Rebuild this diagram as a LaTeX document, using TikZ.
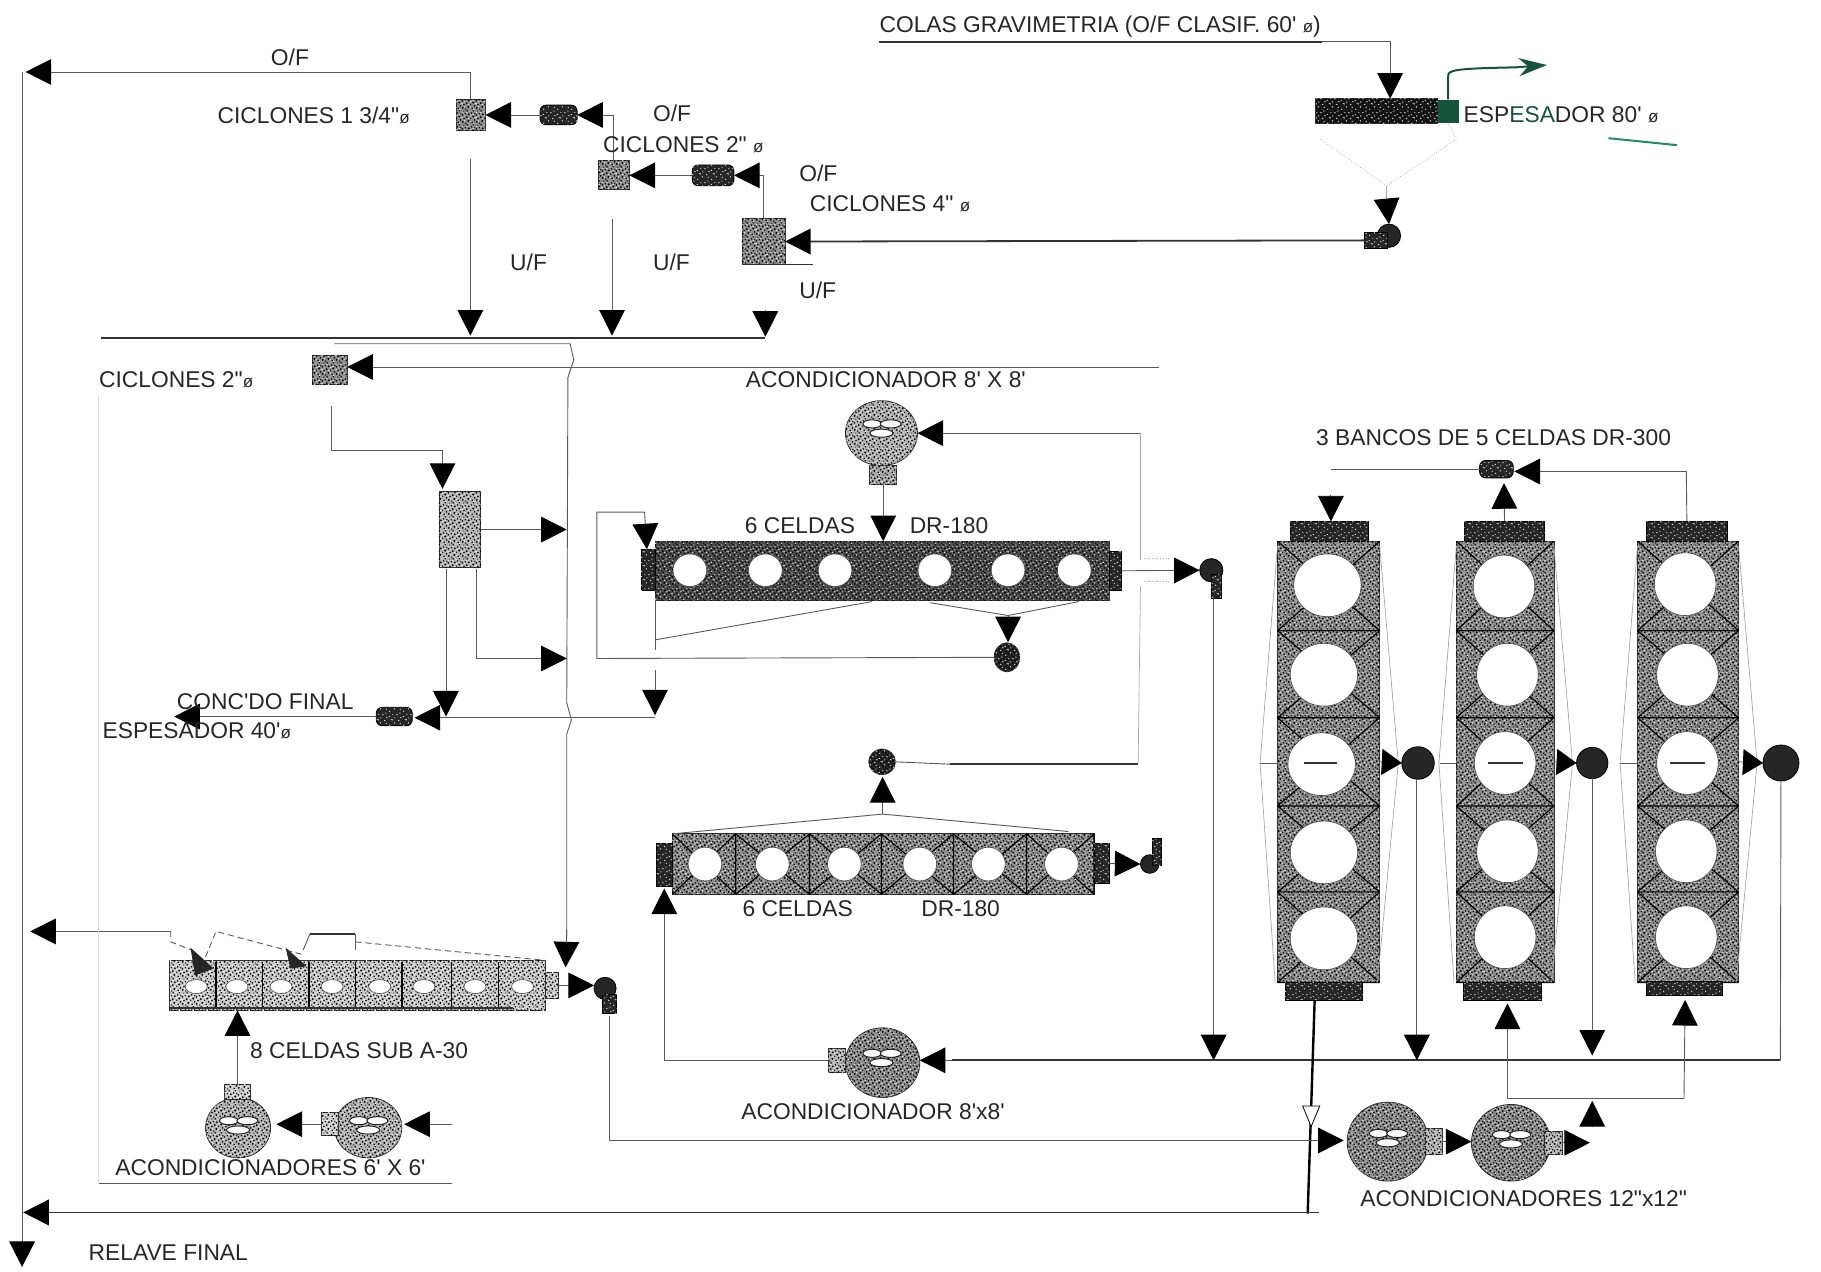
\documentclass[tikz,border=0pt]{standalone}
\usepackage{fontspec}
\newfontfamily\lblfont{Liberation Sans}
\definecolor{plantgreen}{RGB}{20,84,60}
\definecolor{markgreen}{RGB}{30,140,100}
\usetikzlibrary{arrows.meta,positioning,shapes.geometric,patterns,calc}
\newcommand{\ux}{0.5807pt}
\newcommand{\dia}{{\fontsize{8.5}{10}\selectfont ø}}
\pgfdeclarepatternformonly{speckdark}{\pgfqpoint{-1pt}{-1pt}}{\pgfqpoint{8pt}{8pt}}{\pgfqpoint{7pt}{7pt}}{
  \foreach \a/\b/\r in {0.4/0.9/0.5,1.9/0.3/0.35,3.2/1.4/0.55,5.1/0.7/0.4,6.3/1.9/0.45,
                        1.0/2.6/0.4,2.4/3.3/0.5,4.3/2.7/0.35,5.6/3.6/0.55,0.2/4.4/0.45,
                        1.7/5.0/0.35,3.4/4.7/0.5,4.8/5.4/0.4,6.4/5.0/0.35,2.6/6.4/0.45,0.9/6.3/0.3,5.7/6.5/0.4}{
    \pgfpathcircle{\pgfqpoint{\a pt}{\b pt}}{\r pt}
  }
  \pgfusepath{fill}
}
\pgfdeclarepatternformonly{specklight}{\pgfqpoint{-1pt}{-1pt}}{\pgfqpoint{8pt}{8pt}}{\pgfqpoint{7pt}{7pt}}{
  \foreach \a/\b/\r in {1.2/1.4/0.35,4.1/1.2/0.3,5.9/0.2/0.3,0.3/2.9/0.3,3.4/2.6/0.35,
                        6.6/3.0/0.3,1.4/3.9/0.3,4.5/4.0/0.35,2.5/5.5/0.35,5.6/4.6/0.3,0.5/5.6/0.25,4.0/6.3/0.3}{
    \pgfpathcircle{\pgfqpoint{\a pt}{\b pt}}{\r pt}
  }
  \pgfusepath{fill}
}
\tikzset{
  dims/.style 2 args={minimum width=(#1)*\ux,minimum height=(#2)*\ux},
  lbl/.style={font=\lblfont\fontsize{11.4}{13}\selectfont,inner sep=0,anchor=west,text=black!85},
  pipe/.style={draw=black!65,line width=.45pt},
  heavy/.style={draw=black!80,line width=.9pt},
  faint/.style={draw=black!35,line width=.35pt},
  cellline/.style={draw=black,line width=.55pt},
  flow/.style={pipe,-{Triangle[length=12.8pt,width=12.8pt,black]}},
  flowsm/.style={pipe,-{Triangle[length=10pt,width=13pt,black]}},
  mottled/.style={draw=black!80,line width=.4pt,inner sep=0,outer sep=0,fill=black!45,
    postaction={pattern=speckdark,pattern color=black},
    postaction={pattern=specklight,pattern color=white}},
  mottleddark/.style={mottled,fill=black!70},
  mottledpale/.style={mottled,fill=black!22,
    postaction={pattern=specklight,pattern color=white}},
  endcap/.style={draw=black,inner sep=0,outer sep=0,fill=black!85,
    postaction={pattern=specklight,pattern color=white}},
  pump/.style={endcap,rounded corners=3pt},
  dotpump/.style={circle,draw=black,inner sep=0,outer sep=0,fill=black!85},
  hole/.style={ellipse,draw=black!70,line width=.3pt,fill=white,inner sep=0},
  blade/.style={draw=black!85,line width=.5pt,fill=white},
}
\newcommand{\impeller}[2]{
  \begin{scope}[shift={(#1,#2)}]
    \draw[blade] (-8,-4) ellipse [x radius=8,y radius=3.5];
    \draw[blade] (8,-4) ellipse [x radius=9,y radius=3.5];
    \draw[blade] (0,4) ellipse [x radius=10,y radius=3.5];
  \end{scope}
}
\begin{document}
\begin{tikzpicture}[x=0.5807pt,y=-0.5807pt]
  \useasboundingbox (0,0) rectangle (1568,1095);

  %% Cyclones at the top
  \node[mottled,dims={25}{26}] (cycone) at (405.5,99) {};
  \node[mottled,dims={27}{25}] (cyctwo) at (528.5,151) {};
  \node[mottled,dims={37}{40}] (cycfour) at (657.5,208) {};
  \node[pump,dims={32}{17}] (pumpone) at (481,99) {};
  \node[pump,dims={36}{18}] (pumptwo) at (614,151) {};
  \node[dotpump,dims={20}{20}] (pumpesp) at (1196,203) {};
  \node[endcap,dims={20}{13}] (pumpespin) at (1185,207) {};

  \coordinate (ofleft) at (22,62);
  \coordinate (tailtop) at (19,62);
  \coordinate (tailend) at (19,1091);
  \draw[flow] (cycone.north) |- (ofleft);
  \draw[flow] (tailtop) -- (tailend);
  \draw[flow] (cyctwo.north) |- (pumpone.east);
  \draw[flow] (cycfour.north) |- (pumptwo.east);
  \draw[flow] (pumpone.west) -- (cycone.east);
  \draw[flow] (pumptwo.west) -- (cyctwo.east);
  \draw[flow,heavy] (pumpespin.west) -- (cycfour.east);

  %% Underflow collector
  \coordinate (colstart) at (87,291);
  \coordinate (colend) at (659,291);
  \draw[heavy] (colstart) -- (colend);
  \draw[heavy,line width=.6pt] (cycfour.south west) -- ++(61,0);
  \foreach \x/\ya/\yb in {405/137/289,527/189/289}{
    \coordinate (ufa\x) at (\x,\ya);
    \coordinate (ufb\x) at (\x,\yb);
    \draw[flow] (ufa\x) -- (ufb\x);
  }
  \coordinate (ufc) at (659,267);
  \coordinate (ufd) at (659,290);
  \draw[flow] (ufc) -- (ufd);

  %% Thickener
  \node[mottleddark,dims={105}{21},fill=black!90] (espbox) at (1185.5,95.5) {};
  \node[fill=plantgreen,inner sep=0,dims={18}{20}] (espout) at (1247,96) {};
  \coordinate (colas) at (757,36);
  \coordinate (colasmid) at (1138,36);
  \coordinate (colasend) at (1197,36);
  \coordinate (conel) at (1137,120);
  \coordinate (coner) at (1254,120);
  \coordinate (coneapex) at (1194,160);
  \coordinate (conedrop) at (1194,172);
  \coordinate (pumpin) at (1196,193);
  \coordinate (espin) at (1197,85);
  \draw[heavy] (colas) -- (colasmid);
  \draw[flow] (colasmid) -- (colasend) -- (espin);
  \draw[faint,densely dotted] (conel) -- (coneapex) -- (coner) -- (espout.south);
  \draw[faint] (coneapex) -- (conedrop);
  \draw[flow] (conedrop) -- (pumpin);
  \coordinate (greenend) at (1332,56);
  \draw[plantgreen,line width=1pt,-{Stealth[length=14pt,width=9pt]}]
    (espout.north) -- ++(0,-20) .. controls (1246,60) and (1255,59) .. (1305,58) -- (greenend);
  \coordinate (marka) at (1385,119);
  \coordinate (markb) at (1444,125);
  \draw[markgreen,line width=1pt] (marka) -- (markb);

  %% Second stage classification
  \node[mottled,dims={30}{25}] (cycb) at (284,318.5) {};
  \node[mottled,dims={36}{66},fill=black!30] (deslamer) at (396,456) {};
  \node[pump,dims={31}{16}] (pumpconc) at (339.5,617) {};
  \coordinate (feedline) at (998,316);
  \coordinate (feedtip) at (299,316);
  \coordinate (colbstart) at (288,296);
  \coordinate (colbend) at (491,296);
  \coordinate (cleanerin) at (487,833);
  \coordinate (cycbout) at (285,350);
  \coordinate (cycbturn) at (285,388);
  \coordinate (deslamertop) at (381,421);
  \coordinate (desa) at (488,456);
  \coordinate (desb) at (410,490);
  \coordinate (desc) at (488,567);
  \coordinate (desd) at (384,490);
  \coordinate (dese) at (384,617);
  \coordinate (concleft) at (150,617);
  \coordinate (concjoin) at (564,618);
  \coordinate (concin) at (357,618);
  \draw[flow] (feedline) -- (feedtip);
  \draw[pipe] (colbstart) -- (colbend) -- (494,310) -- (489,325) -- (488,605) -- (492,620) -- (488,632) -- (488,810);
  \draw[flow] (488,800) -- (cleanerin);
  \draw[flow] (cycbout) -- (cycbturn) -- (381,388) -- (deslamertop);
  \draw[flow] (deslamer.east) -- (desa);
  \draw[flow] (desb) |- (desc);
  \draw[flow] (desd) -- (dese);
  \draw[flow] (concjoin) -- (concin);
  \draw[flow] (pumpconc.west) -- (concleft);

  %% Conditioner and first DR-180 bank
  \node[mottled,ellipse,dims={62}{56},fill=black!30] (condtop) at (759,373) {};
  \node[mottled,dims={23}{16},fill=black!35] (condtopout) at (760.5,409) {};
  \impeller{759}{369}
  \node[mottleddark,dims={391}{51}] (bankone) at (759.5,491.5) {};
  \node[endcap,dims={12}{35}] (bankonel) at (558,491) {};
  \node[endcap,dims={11}{33}] (bankoner) at (960.5,491.5) {};
  \foreach \x/\n in {594/a,659/b,719/c,805/d,868/e,925/f}
    \node[hole,dims={29}{28}] (holeone\n) at (\x,491) {};
  \coordinate (condfeed) at (982,373);
  \coordinate (feeddown) at (982,482);
  \coordinate (bankonetop) at (760.5,466);
  \draw[flow] (condfeed) -- (condtop.east);
  \draw[flow] (condtopout.south) -- (bankonetop);
  \draw[faint] (condfeed) -- (feeddown);
  \coordinate (dotsa) at (985,481);
  \coordinate (dotsb) at (1006,481);
  \coordinate (dotsc) at (985,501);
  \coordinate (dotsd) at (1006,501);
  \draw[faint,densely dotted] (dotsa) -- (dotsb) (dotsc) -- (dotsd);

  \node[mottleddark,ellipse,dims={22}{25},fill=black!85] (cleanpump) at (867,566) {};
  \node[dotpump,dims={20}{20}] (bankonepump) at (1043,491) {};
  \node[endcap,dims={9}{20}] (bankonefoot) at (1047.5,505) {};
  \coordinate (scava) at (801,519);
  \coordinate (scavb) at (929,518);
  \coordinate (scavapex) at (868,530);
  \coordinate (cleanin) at (868,553);
  \coordinate (loopl) at (514,567);
  \coordinate (loopt) at (514,441);
  \coordinate (loopr) at (555,441);
  \coordinate (loopend) at (557,473);
  \coordinate (diaga) at (751,518);
  \coordinate (diagb) at (564,551);
  \coordinate (vdrop) at (564,517);
  \coordinate (vdropb) at (564,560);
  \coordinate (arrowtop) at (564,577);
  \coordinate (arrowend) at (564,616);
  \coordinate (bankoneout) at (1045,515);
  \coordinate (bankonedown) at (1045,913);
  \draw[pipe] (scava) -- (scavapex) -- (scavb);
  \draw[flow] (scavapex) -- (cleanin);
  \draw[pipe] (cleanpump.west) -- (loopl) -- (loopt) -- (loopr);
  \draw[flow] (loopr) -- (loopend);
  \draw[pipe] (diaga) -- (diagb);
  \draw[pipe] (vdrop) -- (vdropb);
  \draw[flow] (arrowtop) -- (arrowend);
  \draw[flow] (bankoner.east) -- (bankonepump.west);
  \draw[flow] (bankoneout) -- (bankonedown);

  %% Second DR-180 bank
  \node[mottled,dims={363}{52}] (banktwo) at (760.5,744) {};
  \foreach \xa/\xb in {579/633.5,633.5/697,697/759,759/821,821/884,884/942}
    \draw[cellline] (\xa,718) -- (\xb,770) (\xb,718) -- (\xa,770) (\xb,718) -- (\xb,770);
  \node[endcap,dims={14}{37}] (banktwol) at (572,744.5) {};
  \node[endcap,dims={13}{35}] (banktwor) at (948.5,743.5) {};
  \foreach \x/\n in {607/a,665/b,727/c,792/d,851/e,914/f}
    \node[hole,dims={29}{29}] (holetwo\n) at (\x,744) {};
  \node[mottleddark,ellipse,dims={23}{22},fill=black!85] (returnpump) at (759.5,656) {};
  \node[dotpump,dims={16}{16}] (banktwopump) at (990,744) {};
  \node[endcap,dims={8}{23}] (banktwofoot) at (996,733.5) {};
  \coordinate (lifta) at (579,718);
  \coordinate (liftb) at (760,701);
  \coordinate (liftc) at (920,716);
  \coordinate (liftin) at (760,669);
  \coordinate (returnend) at (980,658);
  \coordinate (returnthick) at (818,658);
  \coordinate (risea) at (982,505);
  \draw[pipe] (lifta) -- (liftb) -- (liftc);
  \draw[flow] (liftb) -- (liftin);
  \draw[pipe] (returnpump.east) -- (returnthick);
  \draw[heavy] (returnthick) -- (returnend);
  \draw[faint] (risea) -- (returnend);
  \draw[flow] (banktwor.east) -- (banktwopump.west);

  %% Conditioner 8'x8' below
  \node[mottled,ellipse,dims={64}{60}] (condmid) at (760,915) {};
  \node[mottled,dims={15}{21},fill=black!30] (condmidout) at (720.5,913) {};
  \impeller{759}{911}
  \coordinate (banktwoin) at (572,765);
  \coordinate (condmidturn) at (572,913);
  \coordinate (rightturn) at (1533,913);
  \coordinate (condmidin) at (792,913);
  \draw[flow] (condmidout.west) -- (condmidturn) -- (banktwoin);
  \draw[heavy] (rightturn) -- (820,913);
  \draw[flow] (820,913) -- (condmidin);

  %% Three DR-300 banks
  \foreach \lft/\rgt/\n in {1100/1188/a,1254/1338/b,1410/1497/c}{
    \node[mottled,inner sep=0,dims={\rgt-\lft}{380}] (bank\n) at ({(\lft+\rgt)/2},656) {};
    \foreach \ya/\yb in {466/543,543/618,618/694,694/768,768/846}
      \draw[cellline] (\lft,\ya) -- (\rgt,\yb) (\rgt,\ya) -- (\lft,\yb) (\lft,\yb) -- (\rgt,\yb);
  }
  \foreach \x/\y/\n in {1143/504/a,1140/581/b,1138/658/c,1140/734/d,1140/808/e}
    \node[hole,dims={58}{54}] (holea\n) at (\x,\y) {};
  \foreach \x/\y/\n in {1295/505/a,1298/581/b,1296/657/c,1298/733/d,1296/807/e}
    \node[hole,dims={53}{54}] (holeb\n) at (\x,\y) {};
  \foreach \x/\y/\n in {1451/503/a,1453/581/b,1453/657/c,1452/733/d,1452/807/e}
    \node[hole,dims={53}{54}] (holec\n) at (\x,\y) {};
  \node[endcap,dims={67}{17}] (capat) at (1144.5,457.5) {};
  \node[endcap,dims={67}{15}] (capab) at (1140,853.5) {};
  \node[endcap,dims={69}{17}] (capbt) at (1295.5,457.5) {};
  \node[endcap,dims={67}{15}] (capbb) at (1293.5,853.5) {};
  \node[endcap,dims={69}{17}] (capct) at (1452.5,457.5) {};
  \node[endcap,dims={65}{12}] (capcb) at (1450.5,851) {};
  \node[dotpump,dims={28}{28}] (circa) at (1221,657) {};
  \node[dotpump,dims={27}{27}] (circb) at (1371,657) {};
  \node[dotpump,dims={31}{30}] (circc) at (1533.5,657) {};
  \node[pump,dims={29}{15}] (pumptop) at (1288.5,404) {};
  \foreach \n/\a/\b/\c/\d in {a/1085/1100/1123/1151,b/1240/1254/1281/1311,c/1395/1410/1438/1468}{
    \coordinate (stuba\n) at (\a,657);
    \coordinate (stubb\n) at (\b,657);
    \coordinate (dasha\n) at (\c,657);
    \coordinate (dashb\n) at (\d,657);
    \draw[pipe] (stuba\n) -- (stubb\n);
    \draw[heavy] (dasha\n) -- (dashb\n);
  }
  \foreach \lft/\rgt in {1100/1188,1254/1338,1410/1497}{
    \draw[faint] (\lft,470) -- (\lft-15,657) -- (\lft-2,846);
    \draw[faint] (\rgt,470) -- (\rgt+16,657) -- (\rgt-2,846);
  }
  \draw[flowsm] (banka.east) -- (circa.west);
  \draw[flowsm] (bankb.east) -- (circb.west);
  \draw[flowsm] (bankc.east) -- (circc.west);

  \coordinate (topleft) at (1146,404);
  \coordinate (topdrop) at (1146,426);
  \coordinate (toptip) at (1146,449);
  \coordinate (turnc) at (1452,406);
  \coordinate (toptwo) at (1295,416);
  \draw[pipe] (pumptop.west) -- (topleft);
  \draw[flow] (capct.north) -- (turnc) -- (1304,406);
  \draw[flow] (capbt.north) -- (toptwo);
  \draw[flow] (topdrop) -- (toptip);

  %% Tailing and recycle lines under the banks
  \coordinate (outa) at (1132,861);
  \coordinate (relcorner) at (1126,1045);
  \coordinate (relstart) at (1136,1044);
  \coordinate (relend) at (20,1044);
  \coordinate (opena) at (1129,948);
  \coordinate (openb) at (1129,971);
  \draw[heavy,line width=1.2pt,black] (outa) -- (relcorner);
  \draw[-{Triangle[open,length=11pt,width=9pt,fill=white]}] (opena) -- (openb);
  \draw[flow,heavy] (relstart) -- (relend);

  \coordinate (dropa) at (1220,672);
  \coordinate (dropaend) at (1220,913);
  \coordinate (dropb) at (1371,670);
  \coordinate (dropbend) at (1371,909);
  \draw[flow] (dropa) -- (dropaend);
  \draw[flow] (dropb) -- (dropbend);
  \draw[pipe] (circc.south) -- (rightturn);

  %% Conditioners 12"x12"
  \node[mottled,ellipse,dims={70}{68}] (condbiga) at (1195,983) {};
  \node[mottled,dims={15}{22},fill=black!30] (condbigaout) at (1234.5,983) {};
  \node[mottled,ellipse,dims={68}{66}] (condbigb) at (1301,984) {};
  \node[mottled,dims={15}{20},fill=black!30] (condbigbout) at (1337.5,984) {};
  \impeller{1195}{980}
  \impeller{1301}{981}
  \coordinate (fineout) at (525,875);
  \coordinate (fineturn) at (525,982);
  \coordinate (splita) at (1298,946);
  \coordinate (splitb) at (1450,946);
  \coordinate (splitin) at (1371,970);
  \coordinate (splittip) at (1371,948);
  \coordinate (upb) at (1298,864);
  \coordinate (upc) at (1451,861);
  \coordinate (bigfeedend) at (1157,982);
  \coordinate (bigbtip) at (1369,984);
  \draw[flow] (fineout) -- (fineturn) -- (bigfeedend);
  \draw[flow] (condbigaout.east) -- (condbigb.west |- condbigaout.east);
  \draw[flow] (condbigbout.east) -- (bigbtip);
  \draw[flow] (splitin) -- (splittip);
  \draw[pipe] (splitb) -- (splita);
  \draw[flow] (splita) -- (upb);
  \draw[flow] (splitb) -- (upc);

  %% Sub A bank on the left
  \node[mottledpale,dims={324}{43}] (subabank) at (308,848.5) {};
  \foreach \x in {186,226,266,306,346,389,429}
    \draw[cellline,line width=.7pt] (\x,828) -- (\x,868);
  \foreach \x/\n in {169/a,204/b,242/c,286/d,327/e,365/f,409/g,450/h}
    \node[hole,dims={19}{12}] (holesub\n) at (\x,849.5) {};
  \node[mottledpale,dims={11}{23}] (subaout) at (475.5,848.5) {};
  \node[dotpump,dims={19}{19}] (subapump) at (521,851) {};
  \node[endcap,dims={12}{17}] (subafoot) at (525,864.5) {};
  \coordinate (sublinea) at (146,868);
  \coordinate (sublineb) at (442,868);
  \coordinate (subtopa) at (186,827);
  \coordinate (subtopb) at (306,827);
  \draw[heavy] (sublinea) -- (sublineb);
  \draw[heavy] (subtopa) -- (subtopb);
  \draw[flow] (subaout.east) -- (subapump.west |- subaout.east);
  \coordinate (frotha) at (147,802);
  \coordinate (frothb) at (147,811);
  \coordinate (frothc) at (165,818);
  \coordinate (frothd) at (177,824);
  \coordinate (frothe) at (186,802);
  \coordinate (frothf) at (261,822);
  \coordinate (frothg) at (261,818);
  \coordinate (frothh) at (267,804);
  \coordinate (frothi) at (306,804);
  \coordinate (frothj) at (306,818);
  \coordinate (frothk) at (306,811);
  \coordinate (frothl) at (470,827);
  \coordinate (frothend) at (26,802);
  \coordinate (flata) at (164,816);
  \coordinate (flatb) at (184,834);
  \coordinate (flatc) at (246,816);
  \coordinate (flatd) at (264,832);
  \draw[flow] (frotha) -- (frothend);
  \draw[pipe,densely dashed] (frotha) -- (frothb) -- (frothc);
  \draw[pipe,densely dashed] (frothd) -- (frothe) -- (frothf);
  \draw[pipe] (frothg) -- (frothh);
  \draw[heavy] (frothh) -- (frothi);
  \draw[pipe] (frothi) -- (frothj);
  \draw[pipe,densely dashed] (frothk) -- (frothl);
  \fill[black!85] (flata) -- (flatb) -- (168,840) -- cycle;
  \fill[black!85] (flatc) -- (flatd) -- (250,834) -- cycle;

  %% Conditioners 6'x6'
  \node[mottled,ellipse,dims={56}{52},fill=black!30] (condsma) at (205,971) {};
  \node[mottled,dims={22}{13},fill=black!20] (condsmaout) at (204.5,940.5) {};
  \node[mottled,ellipse,dims={58}{52},fill=black!30] (condsmb) at (317,971) {};
  \node[mottled,dims={14}{20},fill=black!20] (condsmbout) at (284,968) {};
  \impeller{205}{969}
  \impeller{317}{969}
  \coordinate (smfeed) at (389,968);
  \coordinate (subain) at (204.5,870);
  \coordinate (smlinea) at (85,1019);
  \coordinate (smlineb) at (389,1019);
  \coordinate (smup) at (85,340);
  \coordinate (smatip) at (238,968);
  \coordinate (smbtip) at (348,968);
  \draw[flow] (smfeed) -- (smbtip);
  \draw[flow] (condsmbout.west) -- (smatip);
  \draw[flow] (condsmaout.north) -- (subain);
  \draw[pipe] (smlinea) -- (smlineb);
  \draw[faint,draw=black!15] (smup) -- (smlinea);

  %% Labels
  \node[lbl] (lofa) at (233,49) {O/F};
  \node[lbl] (lcyca) at (187,99) {CICLONES 1 3/4"\dia};
  \node[lbl] (lofb) at (562,98) {O/F};
  \node[lbl] (lcycb) at (519,125) {CICLONES 2" \dia};
  \node[lbl] (lofc) at (688,149) {O/F};
  \node[lbl] (lcycc) at (697,175) {CICLONES 4" \dia};
  \node[lbl] (lufa) at (439,226) {U/F};
  \node[lbl] (lufb) at (562,226) {U/F};
  \node[lbl] (lufc) at (688,250) {U/F};
  \node[lbl] (lcolas) at (757,23) {COLAS GRAVIMETRIA (O/F CLASIF. 60' \dia)};
  \node[lbl] (lesp) at (1260,99) {ESP\textcolor{plantgreen}{ESA}DOR 80' \dia};
  \node[lbl] (lcycd) at (85,327) {CICLONES 2"\dia};
  \node[lbl] (lcondt) at (642,327) {ACONDICIONADOR 8' X 8'};
  \node[lbl] (lbancos) at (1133,377) {3 BANCOS DE 5 CELDAS DR-300};
  \node[lbl] (lcelda) at (641,453) {6 CELDAS};
  \node[lbl] (ldra) at (783,453) {DR-180};
  \node[lbl] (lconc) at (152,604) {CONC'DO FINAL};
  \node[lbl] (lespb) at (88,629) {ESPESADOR 40'\dia};
  \node[lbl] (lceldb) at (639,782) {6 CELDAS};
  \node[lbl] (ldrb) at (793,782) {DR-180};
  \node[lbl] (lsub) at (215,905) {8 CELDAS SUB A-30};
  \node[lbl] (lcondm) at (638,957) {ACONDICIONADOR 8'x8'};
  \node[lbl] (lconds) at (99,1005) {ACONDICIONADORES 6' X 6'};
  \node[lbl] (lcondb) at (1171,1032) {ACONDICIONADORES 12"x12"};
  \node[lbl] (lrel) at (76,1079) {RELAVE FINAL};
\end{tikzpicture}
\end{document}
